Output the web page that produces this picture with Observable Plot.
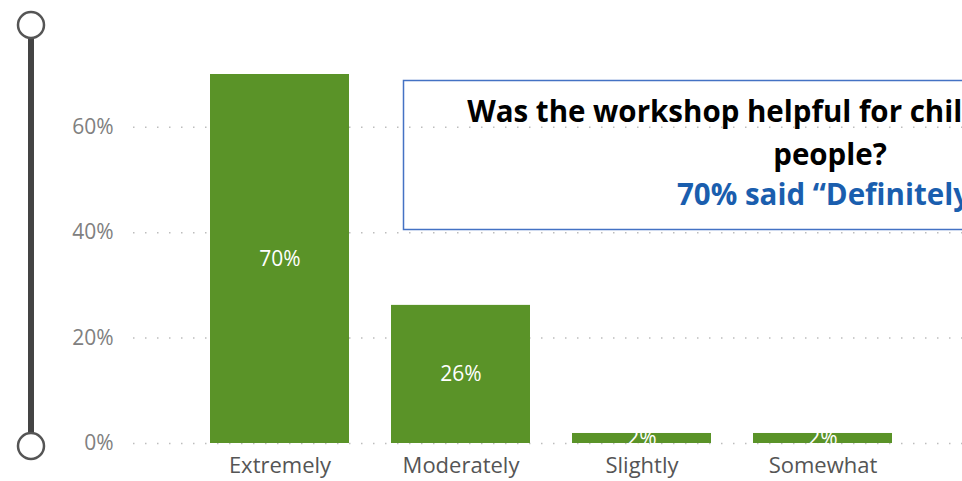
<!DOCTYPE html>
<html><head><meta charset="utf-8">
<script src="https://cdn.jsdelivr.net/npm/d3@7"></script>
<script src="https://cdn.jsdelivr.net/npm/@observablehq/plot@0.6"></script>
<style>
html,body{margin:0;padding:0;background:#fff;}
#chart{position:relative;width:962px;height:481px;overflow:hidden;}
</style></head><body><div id="chart"></div>
<script>
const categories = ["Extremely", "Moderately", "Slightly", "Somewhat"];
const shares = [0.70, 0.262, 0.019, 0.019];
const yTicks = [0, 0.2, 0.4, 0.6];
const titleLines = ["Was the workshop helpful for children and young", "people?"];
const highlightLine = "70% said \u201cDefinitely\u201d";

const data = categories.map((c, i) => ({category: c, share: shares[i]}));
const pct = d3.format(".0%");
const font = "'Open Sans', 'Noto Sans', sans-serif";

const chart = Plot.plot({
  width: 962, height: 481,
  marginLeft: 133, marginRight: 0, marginTop: 74, marginBottom: 38,
  style: {fontFamily: font, background: "transparent", overflow: "hidden"},
  x: {domain: categories, range: [133, 970], paddingInner: 0.232, paddingOuter: 0.418, label: null},
  y: {domain: [0, 0.7], label: null},
  marks: [
    Plot.gridY(yTicks, {stroke: "#bdbdbd", strokeOpacity: 1, strokeDasharray: "1.5,10.5", strokeWidth: 1.5}),
    Plot.barY(data, {x: "category", y: "share", fill: "#5a9328"}),
    Plot.text(data, {x: "category", y: d => d.share / 2, text: d => pct(d.share), fill: "white", fontSize: 21}),
    Plot.axisY(yTicks, {tickSize: 0, tickPadding: 20, tickFormat: pct, fontSize: 21, fill: "#808080", label: null}),
    Plot.axisX({tickSize: 0, tickPadding: 14, fontSize: 22, fill: "#555", label: null})
  ]
});

const svg = d3.select(chart);
// zoom slider decoration on the left
const slider = svg.append("g");
slider.append("line").attr("x1", 31).attr("x2", 31).attr("y1", 38).attr("y2", 433)
  .attr("stroke", "#444").attr("stroke-width", 6);
[25, 446].forEach(cy => slider.append("circle").attr("cx", 31).attr("cy", cy).attr("r", 13)
  .attr("fill", "white").attr("stroke", "#555").attr("stroke-width", 2.5));

// annotation box
const note = svg.append("g").attr("font-family", font).attr("font-weight", "bold").attr("font-size", 29.5).attr("text-anchor", "middle");
note.append("rect").attr("x", 403.5).attr("y", 80.5).attr("width", 900).attr("height", 149)
  .attr("fill", "none").attr("stroke", "#4472c4").attr("stroke-width", 1.5);
titleLines.forEach((t, i) => note.append("text").attr("x", 830).attr("y", 122 + i * 43).attr("fill", "#000").text(t));
note.append("text").attr("x", 830).attr("y", 205).attr("fill", "#1a5eae").text(highlightLine);

document.getElementById("chart").appendChild(chart);
</script></body></html>
